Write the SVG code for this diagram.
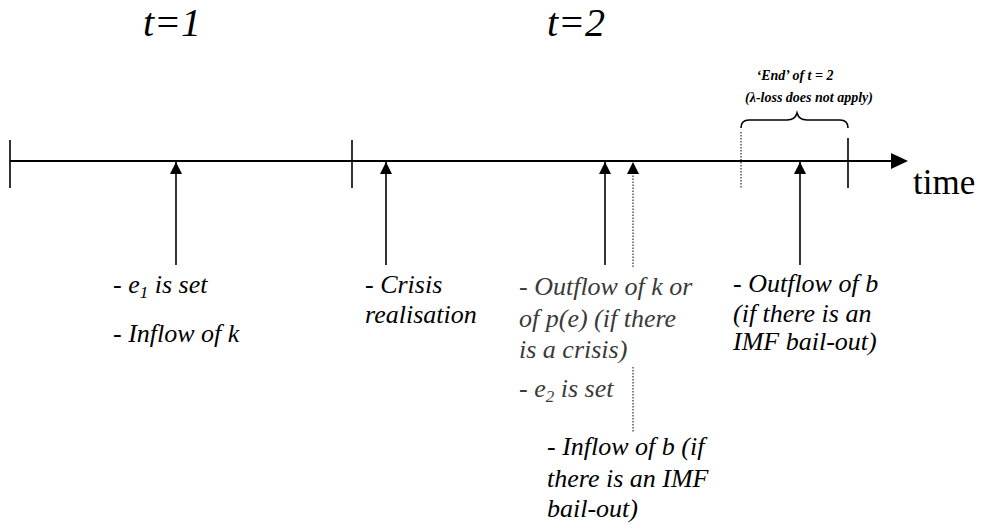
<svg xmlns="http://www.w3.org/2000/svg" width="984" height="532" viewBox="0 0 984 532">
<style>
.t{font-family:'Liberation Serif','Times New Roman',serif;font-style:italic;font-size:26px;fill:#000}
.g{fill:#3a3a3a}
.sub{font-size:17px}
.ttl{font-family:'Liberation Serif','Times New Roman',serif;font-style:italic;font-size:40px;fill:#000}
.sm{font-family:'Liberation Serif','Times New Roman',serif;font-style:italic;font-weight:bold;font-size:14px;fill:#000}
.ln{stroke:#000;stroke-width:1.6;fill:none}
.dot{stroke:#000;stroke-width:1;stroke-dasharray:1.5 1.5;fill:none}
</style>
<defs>
<marker id="ah" markerUnits="userSpaceOnUse" markerWidth="12" markerHeight="12" refX="12" refY="6" orient="auto" viewBox="0 0 12 12">
<path d="M0,0 L12,6 L0,12 Z" fill="#000"/>
</marker>
</defs>
<g id="titles">
<text class="ttl" x="143" y="36">t=1</text>
<text class="ttl" x="547" y="36">t=2</text>
</g>
<g id="timeline">
<line x1="10" y1="161" x2="892" y2="161" stroke="#000" stroke-width="2"/>
<path d="M908,161 L891,153 L891,169 Z" fill="#000"/>
<line class="ln" x1="10" y1="140" x2="10" y2="188"/>
<line class="ln" x1="352" y1="140" x2="352" y2="188"/>
<line class="ln" x1="848" y1="138" x2="848" y2="188"/>
<line class="dot" x1="741" y1="132" x2="741" y2="188"/>
<text x="913" y="194" style="font-family:'Liberation Serif','Times New Roman',serif;font-size:35px;fill:#000">time</text>
</g>
<g id="end-brace">
<path class="ln" stroke-width="1.3" d="M741,128 Q741,120 749,120 L787,120 Q795,120 797,113 Q799,120 807,120 L840,120 Q848,120 848,128"/>
<text class="sm" x="795" y="80" text-anchor="middle">‘End’ of  t = 2</text>
<text class="sm" x="809" y="102" text-anchor="middle">(λ-loss does not apply)</text>
</g>
<g id="connectors">
<line class="ln" x1="176" y1="265" x2="176" y2="162" marker-end="url(#ah)"/>
<line class="ln" x1="386" y1="265" x2="386" y2="162" marker-end="url(#ah)"/>
<line class="ln" x1="605" y1="265" x2="605" y2="162" marker-end="url(#ah)"/>
<line class="dot" x1="633" y1="267" x2="633" y2="162" marker-end="url(#ah)"/>
<line class="dot" x1="633" y1="367" x2="633" y2="432"/>
<line class="ln" x1="800" y1="265" x2="800" y2="162" marker-end="url(#ah)"/>
</g>
<g id="n-e1">
<text class="t" x="113" y="293">- e<tspan class="sub" dy="5">1</tspan><tspan dy="-5"> is set</tspan></text>
<text class="t" x="113" y="342">- Inflow of k</text>
</g>
<g id="n-crisis">
<text class="t" x="365" y="293">- Crisis</text>
<text class="t" x="365" y="323">realisation</text>
</g>
<g id="n-outflow-k">
<text class="t g" x="519" y="295">- Outflow of k or</text>
<text class="t g" x="519" y="327">of p(e) (if there</text>
<text class="t g" x="519" y="358">is a crisis)</text>
<text class="t g" x="519" y="397">- e<tspan class="sub" dy="5">2</tspan><tspan dy="-5"> is set</tspan></text>
</g>
<g id="n-inflow-b">
<text class="t" x="547" y="455">- Inflow of b (if</text>
<text class="t" x="547" y="487">there is an IMF</text>
<text class="t" x="547" y="517">bail-out)</text>
</g>
<g id="n-outflow-b">
<text class="t" x="733" y="292">- Outflow of b</text>
<text class="t" x="733" y="322">(if there is an</text>
<text class="t" x="733" y="350">IMF bail-out)</text>
</g>
</svg>
